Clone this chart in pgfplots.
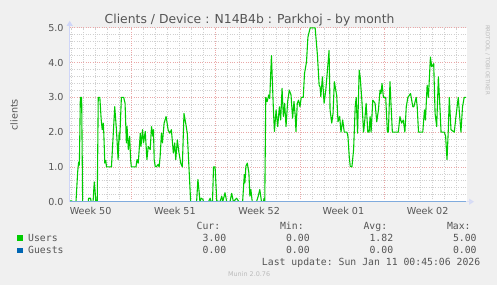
\documentclass[border=0pt]{standalone}
\usepackage{fontspec}
\setmainfont{DejaVu Sans}
\setmonofont{DejaVu Sans Mono}
\usepackage{pgfplots}
\pgfplotsset{compat=1.18}
\usetikzlibrary{arrows.meta}
\definecolor{bgcol}{HTML}{F0F0F0}
\definecolor{fontcol}{HTML}{555555}
\definecolor{axiscol}{HTML}{CFD6F8}
\definecolor{mgridcol}{HTML}{EAA8A8}
\definecolor{gridcol}{HTML}{D0D0D0}
\definecolor{userscol}{HTML}{00CC00}
\definecolor{guestscol}{HTML}{0066B3}
\definecolor{wmcol}{HTML}{BBBBBB}
\pgfplotsset{
  layers/rrd/.define layer set={
    axis background,axis grid,main,axis ticks,axis lines,axis tick labels,axis descriptions,axis foreground
  }{
    grid style={/pgfplots/on layer=axis grid},
    tick style={/pgfplots/on layer=axis ticks},
    axis line style={/pgfplots/on layer=axis lines},
    label style={/pgfplots/on layer=axis descriptions},
    legend style={/pgfplots/on layer=axis descriptions},
    title style={/pgfplots/on layer=axis descriptions},
    colorbar style={/pgfplots/on layer=axis descriptions},
    ticklabel style={/pgfplots/on layer=axis tick labels},
    axis background@ style={/pgfplots/on layer=axis background},
    3d box foreground style={/pgfplots/on layer=axis foreground},
  },
}
\begin{document}
\pagecolor{bgcol}
\begin{tikzpicture}
\path (0,0) rectangle (497bp,287bp);
\begin{axis}[
  at={(67bp,84bp)}, anchor=south west,
  scale only axis, width=400bp, height=175bp,
  xmin=0, xmax=400, ymin=0, ymax=5,
  set layers=rrd,
  axis background/.style={fill=white},
  axis lines*=left,
  axis line style={draw=axiscol, line width=1bp},
  x axis line style={-{Triangle[length=5bp,width=6bp]}, shorten >=-7bp, draw opacity=0.62, fill opacity=0.62},
  y axis line style={-{Triangle[length=5bp,width=6bp]}, shorten >=-7bp},
  tick style={draw=none},
  xtick={21,105.8,190.6,275.4,360.2},
  xticklabels={Week 50,Week 51,Week 52,Week 01,Week 02},
  extra x ticks={62,146.84,231.68,316.52},
  extra x tick labels={},
  extra x tick style={grid=major},
  minor xtick={1.4,13.52,25.64,37.76,49.88,74.12,86.24,98.36,110.48,122.6,134.72,158.96,171.08,183.2,195.32,207.44,219.56,243.8,255.92,268.04,280.16,292.28,304.4,328.64,340.76,352.88,365.0,377.12,389.24},
  xminorgrids=true,
  ytick={0,1,2,3,4,5},
  yticklabels={0.0,1.0,2.0,3.0,4.0,5.0},
  minor ytick={0.2,0.4,0.6,0.8,1.2,1.4,1.6,1.8,2.2,2.4,2.6,2.8,3.2,3.4,3.6,3.8,4.2,4.4,4.6,4.8},
  ymajorgrids=true, yminorgrids=true,
  minor grid style={draw=gridcol, dash pattern=on 1bp off 1.3bp, line width=0.7bp},
  major grid style={draw=mgridcol, dash pattern=on 1bp off 1.3bp, line width=0.7bp},
  /pgf/number format/assume math mode=true,
  tick label style={font=\fontsize{9.7pt}{11pt}\selectfont, text=fontcol},
  yticklabel style={anchor=east, inner sep=0pt, xshift=-6bp},
  xticklabel style={anchor=north, inner sep=0pt, yshift=-5bp},
  ylabel={clients},
  ylabel style={at={(axis description cs:-0.14,0.5)}, anchor=center, font=\fontsize{9.7pt}{11pt}\selectfont, text=fontcol},
  every axis title shift=0pt,
  title={Clients / Device : N14B4b : Parkhoj - by month},
  title style={at={(axis description cs:0.4525,1.0229)}, anchor=base, inner sep=0pt, font=\fontsize{12.5pt}{14pt}\selectfont, text=fontcol},
]
\addplot[userscol, line width=1.1bp, line join=round] coordinates {
(0,0.02) (2,0.02) (3,0) (6.3,0) (8,0.86) (9,1.14) (9.7,1.05) (10.7,3.0) (12,3.0) (13,0)
(18.7,0) (19,0.1) (21,0.1) (21.5,0) (23.5,0) (24.7,0.57) (25.5,0.3) (26.3,0) (27.7,0)
(28.7,3.0) (30.3,3.0) (31.7,2.35) (32.7,2.07) (33.7,2.26) (34.3,1.97) (35.3,1.11) (36.3,1.19)
(37,1.0) (42,1.0) (45.3,2.73) (47,2.07) (48.7,1.21) (49.7,1.97) (50.3,1.78) (52,3.0) (54.3,3.0)
(55.7,2.83) (57,1.69) (57.7,2.16) (59,1.5) (60.3,1.88) (61.3,1.21) (62,1.0) (66.7,1.0)
(67.7,1.21) (69,1.11) (71,1.97) (71.7,1.59) (73.3,2.07) (74.3,1.69) (76,2.02) (77.7,1.21)
(79,1.59) (81,1.5) (82.3,2.16) (83.7,1.88) (84.3,2.07) (85,1.21) (86,1.02) (87,1.0) (89,1.07)
(90,1.0) (91,1.3) (92.3,1.97) (93.3,1.69) (95,2.26) (97,2.45) (99,2.07) (100.7,1.97)
(102.3,2.07) (104.3,1.4) (105.7,1.69) (106.7,1.21) (108.3,1.78) (109.7,1.45) (111.7,1.11)
(113.3,1.0) (115,2.54) (116.7,2.26) (118.3,1.97) (121.7,0) (127.7,0) (129,0.64) (130.3,0.26)
(131,0) (132.3,0.1) (134,0.07) (134.7,0) (139.7,0) (141.3,0.1) (142.3,0) (143.7,0) (144.7,1.0)
(146.3,1.0) (148,0.02) (151.3,0) (153,0.16) (154,0) (156.3,0.26) (158,0) (161.3,0) (163,0.24)
(164.7,0) (168,0.1) (170.3,0) (174,0) (175.7,0.78) (176.3,0.54) (177.3,1.02) (178.7,1.11)
(180.3,0.83) (181.3,0.16) (182.3,0.35) (183.7,0) (188,0) (189.7,0.16) (191.3,0.35) (193,0)
(194.7,0) (195.7,0.1) (196.3,0) (197.3,3.0) (198.7,2.88) (200.3,3.07) (201.3,2.97) (203,4.2)
(205,2.64) (206,2.02) (207.7,2.64) (209.3,2.16) (211,2.73) (212.3,2.35) (213.7,3.26) (215,2.45)
(216.3,2.83) (217.7,2.16) (219.3,2.88) (221,3.21) (222.7,3.07) (224.3,2.4) (225.7,2.88)
(227,2.45) (227.7,2.02) (229,2.83) (230.3,2.92) (231.7,2.73) (233,3.0) (235,3.0) (236.3,3.69)
(238.3,4.02) (239.7,4.73) (242,5.0) (247,5.0) (249.3,4.21) (251,3.35) (252,3.3) (252.7,3.02)
(254.3,3.59) (256,2.83) (257.7,3.21) (261,4.35) (262,2.64) (263.7,2.26) (265,2.54) (266.3,3.45)
(268.7,3.05) (270,2.3) (271.7,2.45) (273,2.0) (274.7,2.35) (276.3,2.0) (279,2.0) (280,1.88)
(281.3,1.3) (282.3,1.02) (284,1.0) (285.7,1.5) (287.3,2.73) (288.3,3.0) (289.7,1.97)
(291.3,3.78) (292.3,3.59) (294,2.92) (295.7,2.0) (296.7,2.26) (298.3,2.83) (300,2.0) (301.3,2.0)
(302.3,2.45) (303.3,2.0) (305,2.92) (307.3,2.83) (309,2.3) (310.7,2.64) (312.3,3.21) (313.3,3.11)
(314.3,3.4) (315.7,3.0) (318,3.0) (319.7,2.0) (320.7,2.0) (322.3,3.45) (323.3,2.83) (324.7,2.0)
(330.7,2.0) (332.3,2.45) (334,2.26) (335.7,2.35) (337.3,2.0) (338.7,2.73) (340.3,3.0)
(343,3.11) (345.3,2.73) (346.3,2.73) (348.7,3.0) (349.7,2.73) (351,2.0) (355.3,2.0) (357,2.64)
(358,2.35) (359.7,3.35) (361,3.0) (363,4.16) (364.3,3.88) (366.3,3.97) (367.7,2.54) (369.3,2.16)
(371,3.59) (372.7,2.64) (373.7,2.0) (377,2.0) (378.3,1.88) (379.7,1.21) (381,2.07) (382,3.0)
(383.7,2.07) (387,2.0) (388.7,2.45) (391,3.0) (393.7,2.0) (395.3,2.73) (397,3.0) (399,3.0)
};
\addplot[guestscol, line width=1.1bp] coordinates {(0,0) (399,0)};
\end{axis}
% legend
\begin{scope}[every node/.style={inner sep=0pt, text=fontcol, font=\ttfamily\fontsize{9.9pt}{11pt}\selectfont}]
\node[anchor=base west] at (194.5bp,56bp) {Cur:};
\node[anchor=base west] at (278.5bp,56bp) {Min:};
\node[anchor=base west] at (362.5bp,56bp) {Avg:};
\node[anchor=base west] at (446.5bp,56bp) {Max:};
\fill[userscol] (14bp,44.8bp) rectangle (19.5bp,50.3bp);
\node[anchor=base west] at (25bp,44.3bp) {Users};
\node[anchor=base east] at (224.7bp,44.3bp) {3.00};
\node[anchor=base east] at (308.7bp,44.3bp) {0.00};
\node[anchor=base east] at (392.7bp,44.3bp) {1.82};
\node[anchor=base east] at (476.7bp,44.3bp) {5.00};
\fill[guestscol] (14bp,32.4bp) rectangle (19.5bp,37.9bp);
\node[anchor=base west] at (25bp,32bp) {Guests};
\node[anchor=base east] at (224.7bp,32bp) {0.00};
\node[anchor=base east] at (308.7bp,32bp) {0.00};
\node[anchor=base east] at (392.7bp,32bp) {0.00};
\node[anchor=base east] at (476.7bp,32bp) {0.00};
\node[anchor=base west] at (260.3bp,20.3bp) {Last update: Sun Jan 11 00:45:06 2026};
\end{scope}
\node[anchor=base, inner sep=0pt, text=wmcol, font=\fontsize{6.5pt}{7pt}\selectfont] at (247.5bp,8.7bp) {Munin 2.0.76};
\node[anchor=west, inner sep=0pt, rotate=-90, text=wmcol, font=\fontsize{5.5pt}{6pt}\selectfont] at (487.5bp,262bp) {RRDTOOL / TOBI OETIKER};
\end{tikzpicture}
\end{document}
